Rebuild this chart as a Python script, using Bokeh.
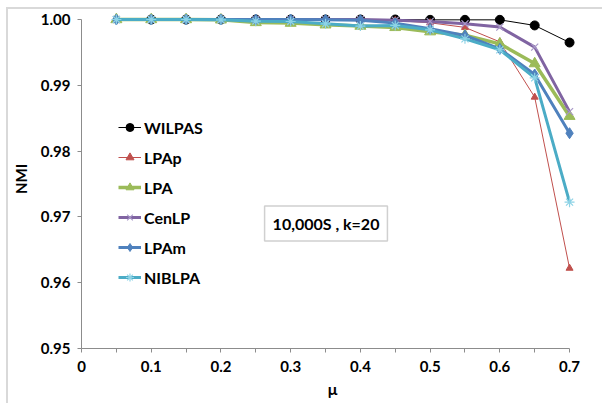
import math
from bokeh.plotting import figure
from bokeh.models import Range1d, Legend, LegendItem, Label, FixedTicker, NumeralTickFormatter
from bokeh.embed import file_html
from bokeh.resources import INLINE
from bokeh.core.properties import value

nan = float("nan")
mu = [0.05, 0.1, 0.15, 0.2, 0.25, 0.3, 0.35, 0.4, 0.45, 0.5, 0.55, 0.6, 0.65, 0.7]
wilpas = [nan, 1.0, 1.0, 1.0, 1.0, 1.0, 1.0, 1.0, 1.0, 0.99995, 0.99995, 0.99995, 0.9991, 0.9965]
lpap = [1.0, 1.0, 1.0, 1.0, 1.0, 1.0, 1.0, 0.99995, 0.99985, 0.9995, 0.9988, 0.9966, 0.9882, 0.9622]
lpa = [1.0, 1.0, 1.0, 0.99995, 0.99955, 0.99945, 0.9992, 0.9990, 0.99880, 0.99815, 0.99760, 0.9963, 0.9933, 0.9853]
cenlp = [1.0, 1.0, 1.0, 1.0, 1.0, 1.0, 1.0, 1.0, 0.9999, 0.9997, 0.99935, 0.99885, 0.9958, 0.9860]
lpam = [1.0, 1.0, 1.0, 1.0, 1.0, 1.0, 0.99995, 0.9999, 0.99945, 0.99858, 0.99757, 0.99554, 0.99164, 0.98272]
niblpa = [1.0, 1.0, 1.0, 0.99995, 0.99975, 0.9997, 0.99935, 0.9990, 0.9991, 0.99843, 0.99706, 0.9954, 0.99114, 0.97224]

x_ticks = [0, 0.1, 0.2, 0.3, 0.4, 0.5, 0.6, 0.7]
x_minor = [0.05, 0.15, 0.25, 0.35, 0.45, 0.55, 0.65]
y_ticks = [0.95, 0.96, 0.97, 0.98, 0.99, 1.00]

FONT = "Lato"

p = figure(width=596, height=396, output_backend="svg", toolbar_location=None,
           x_range=Range1d(0, 0.72), y_range=Range1d(0.95, 1.00152),
           min_border_left=72, min_border_right=21, min_border_top=0, min_border_bottom=57)
p.margin = (7, 0, 0, 6)
p.styles = {"border-top": "2px solid #d9d9d9", "border-left": "2px solid #d9d9d9"}
p.outline_line_color = None
p.xgrid.visible = False
p.ygrid.visible = False
p.background_fill_color = "white"
p.border_fill_color = "white"

for ax in (p.xaxis[0], p.yaxis[0]):
    ax.axis_line_color = "#8c8c8c"
    ax.major_tick_line_color = "#8c8c8c"
    ax.minor_tick_line_color = "#8c8c8c"
    ax.major_tick_in = 0
    ax.major_tick_out = 4
    ax.minor_tick_in = 0
    ax.minor_tick_out = 4
    ax.major_label_text_font = FONT
    ax.major_label_text_font_style = "bold"
    ax.major_label_text_font_size = "15px"
    ax.major_label_text_color = "black"
    ax.axis_label_text_font = FONT
    ax.axis_label_text_font_style = "bold"
    ax.axis_label_text_color = "black"

p.xaxis.ticker = FixedTicker(ticks=x_ticks, minor_ticks=x_minor)
p.xaxis.formatter = NumeralTickFormatter(format="0.[0]")
p.xaxis.bounds = (0, 0.7)
p.xaxis.major_label_standoff = 8
p.xaxis.axis_label = "μ"
p.xaxis.axis_label_text_font_size = "16px"
p.xaxis.axis_label_standoff = 4

p.yaxis.ticker = FixedTicker(ticks=y_ticks, minor_ticks=[])
p.yaxis.formatter = NumeralTickFormatter(format="0.00")
p.yaxis.bounds = (0.95, 1.0)
p.yaxis.major_label_standoff = 7
p.yaxis.axis_label = "NMI"
p.yaxis.axis_label_text_font_size = "15px"
p.yaxis.axis_label_standoff = 8

series = [
    ("WILPAS", wilpas, "black", 1, "circle", 9, "black", 1),
    ("LPAp", lpap, "#C0504D", 1, "triangle", 7, "#C0504D", 1),
    ("LPA", lpa, "#9BBB59", 3.5, "triangle", 11, "#9BBB59", 1),
    ("CenLP", cenlp, "#8064A2", 3, "x", 10, "#A898C8", 1.2),
    ("LPAm", lpam, "#4F81BD", 3, "diamond", 11, "#4F81BD", 1),
    ("NIBLPA", niblpa, "#4BACC6", 3, "asterisk", 10, "#8ED3E6", 1.2),
]

items = []
for name, vals, col, lw, mk, sz, mcol, mlw in series:
    r1 = p.line(mu, vals, line_color=col, line_width=lw)
    r2 = p.scatter(mu, vals, marker=mk, size=sz, fill_color=mcol, line_color=mcol, line_width=mlw)
    items.append(LegendItem(label=name, renderers=[r1, r2]))

legend = Legend(items=items, location=(37, 61), margin=0, padding=0,
                glyph_width=23, glyph_height=20, spacing=10, label_standoff=3,
                label_text_font=FONT, label_text_font_style="bold", label_text_font_size="16px",
                label_text_color="black", label_height=20,
                border_line_color=None, background_fill_alpha=0)
p.add_layout(legend)

box = Label(x=0.3507, y=0.9690, text="10,000S , k=20", text_align="center", text_baseline="middle",
            text_font=FONT, text_font_style="bold", text_font_size="16px", text_color="black",
            border_line_color="#d0d0d0", border_line_width=1.5, background_fill_color="white",
            padding=8)
p.add_layout(box)

open("out.html", "w").write(file_html(p, INLINE))
